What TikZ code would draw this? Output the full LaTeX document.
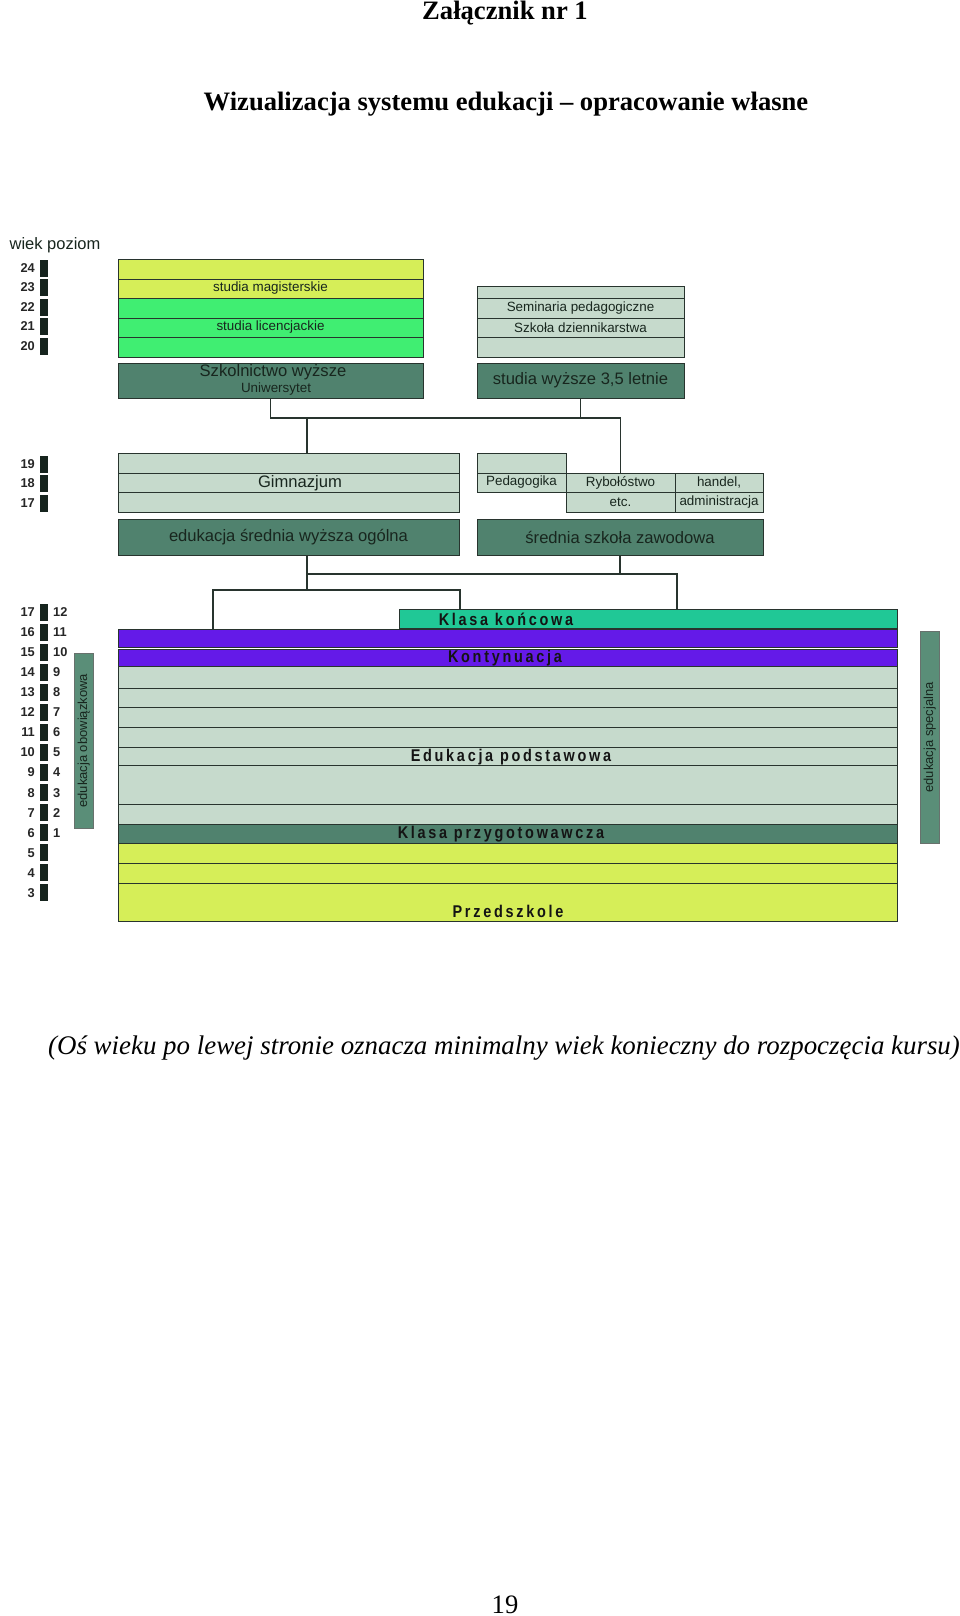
\documentclass[tikz,border=0pt]{standalone}
\usepackage{fontspec}
\setmainfont{Liberation Serif}
\newfontfamily\labelfont{Liberation Sans}
\newfontfamily\bandfont[FakeStretch=0.85, LetterSpace=16]{Liberation Sans}
\usetikzlibrary{positioning,calc}

\definecolor{limeY}{RGB}{214,238,88}
\definecolor{brightG}{RGB}{64,238,114}
\definecolor{sage}{RGB}{198,218,204}
\definecolor{darkT}{RGB}{80,130,110}
\definecolor{kkTeal}{RGB}{32,200,150}
\definecolor{kontC}{RGB}{100,26,232}
\definecolor{sideC}{RGB}{90,142,120}
\definecolor{lineC}{RGB}{40,52,46}
\definecolor{ageC}{RGB}{22,36,30}
\definecolor{txtC}{RGB}{24,38,30}

\begin{document}
\begin{tikzpicture}[x=1pt,y=-1pt,
    box/.style={draw=lineC, line width=0.9pt, anchor=north west, inner sep=0pt, outer sep=0pt},
    big/.style={font=\labelfont\fontsize{16.6}{18}\selectfont, text=txtC, inner sep=0pt},
    small/.style={font=\labelfont\fontsize{13.4}{15}\selectfont, text=txtC, inner sep=0pt},
    band/.style={font=\bandfont\bfseries\fontsize{17}{19}\selectfont, text=black!92, inner sep=0pt},
    conn/.style={draw=lineC, line width=1.3pt},
    agebox/.style={fill=ageC, minimum width=8, minimum height=17, inner sep=0pt},
    agenum/.style={font=\labelfont\bfseries\fontsize{12.8}{14}\selectfont, text=black!85, inner sep=0pt},
    side/.style={fill=sideC, draw=lineC!70, line width=0.6pt, anchor=north west, minimum width=19, inner sep=0pt},
    sidetext/.style={font=\labelfont\fontsize{13}{15}\selectfont, text=txtC, rotate=90, inner sep=0pt}]

  \fill[white, use as bounding box] (0,0) rectangle (960,1616);

  % naglowek
  \node[font=\bfseries\fontsize{26.6}{30}\selectfont, anchor=base] (zal) at (505,20) {Załącznik nr 1};
  \node[font=\bfseries\fontsize{26.6}{30}\selectfont, anchor=base] (tyt) at (506,111) {Wizualizacja systemu edukacji -- opracowanie własne};

  % wiek / poziom
  \node[font=\labelfont\fontsize{16.5}{18}\selectfont, text=txtC] (head) at (55,245) {wiek poziom};

  % studia magisterskie / licencjackie
  \node[box, fill=limeY, minimum width=305, minimum height=20] (mag1) at (118,259) {};
  \node[box, fill=limeY, minimum width=305, minimum height=19, small] (mag2) at (118,279) {studia magisterskie};
  \node[box, fill=brightG, minimum width=305, minimum height=20] (lic1) at (118,298) {};
  \node[box, fill=brightG, minimum width=305, minimum height=19, small] (lic2) at (118,318) {studia licencjackie};
  \node[box, fill=brightG, minimum width=305, minimum height=20] (lic3) at (118,337) {};
  \node[box, fill=darkT, minimum width=305, minimum height=35] (uni) at (118,363) {};
  \node[big] (uniA) at (273,372) {Szkolnictwo wyższe};
  \node[small] (uniB) at (276,389) {Uniwersytet};

  % studia 3,5 letnie
  \node[box, fill=sage, minimum width=207, minimum height=12] (sem1) at (477,286) {};
  \node[box, fill=sage, minimum width=207, minimum height=20, small] (sem2) at (477,298) {Seminaria pedagogiczne};
  \node[box, fill=sage, minimum width=207, minimum height=19, small] (sem3) at (477,318) {Szkoła dziennikarstwa};
  \node[box, fill=sage, minimum width=207, minimum height=20] (sem4) at (477,337) {};
  \node[box, fill=darkT, minimum width=207, minimum height=35, big] (sw35) at (477,363) {studia wyższe 3,5 letnie};

  % gimnazjum
  \node[box, fill=sage, minimum width=341, minimum height=20] (gim1) at (118,453) {};
  \node[box, fill=sage, minimum width=341, minimum height=19] (gim2) at (118,473) {};
  \node[box, fill=sage, minimum width=341, minimum height=20] (gim3) at (118,492) {};
  \node[big] (gimL) at (300,483) {Gimnazjum};
  \node[box, fill=darkT, minimum width=341, minimum height=36, big] (esw) at (118,519) {edukacja średnia wyższa ogólna};

  % szkola zawodowa
  \node[box, fill=sage, minimum width=89, minimum height=20] (ped1) at (477,453) {};
  \node[box, fill=sage, minimum width=89, minimum height=19, small] (ped2) at (477,473) {Pedagogika};
  \node[box, fill=sage, minimum width=109, minimum height=19, small] (ryb1) at (566,473) {Rybołóstwo};
  \node[box, fill=sage, minimum width=109, minimum height=20, small] (ryb2) at (566,492) {etc.};
  \node[box, fill=sage, minimum width=88, minimum height=19, small] (han1) at (675,473) {handel,};
  \node[box, fill=sage, minimum width=88, minimum height=20, small] (han2) at (675,492) {administracja};
  \node[box, fill=darkT, minimum width=286, minimum height=36, big] (szz) at (477,519) {średnia szkoła zawodowa};

  % edukacja podstawowa, przedszkole
  \node[box, fill=kkTeal, minimum width=498, minimum height=19] (kk) at (399,609) {};
  \node[box, fill=kontC, minimum width=779, minimum height=18] (kon1) at (118,629) {};
  \node[box, fill=kontC, minimum width=779, minimum height=17] (kon2) at (118,649) {};
  \foreach \t/\h [count=\i] in {666/22,688/19,707/20,727/20,747/18,765/39,804/20}
    \node[box, fill=sage, minimum width=779, minimum height=\h] (pod\i) at (118,\t) {};
  \node[box, fill=darkT, minimum width=779, minimum height=19] (prz) at (118,824) {};
  \foreach \t/\h [count=\i] in {843/20,863/20,883/38}
    \node[box, fill=limeY, minimum width=779, minimum height=\h] (psz\i) at (118,\t) {};
  \node[band] (kkL) at (506,619) {Klasa końcowa};
  \node[band] (konL) at (505,658) {Kontynuacja};
  \node[band] (podL) at (511,757) {Edukacja podstawowa};
  \node[band] (przL) at (501,834) {Klasa przygotowawcza};
  \node[band] (pszL) at (508,911) {Przedszkole};

  % edukacja obowiazkowa / specjalna
  \node[side, minimum height=175] (obow) at (74,653) {};
  \node[sidetext] (obowL) at (obow.center) {edukacja obowiązkowa};
  \node[side, minimum height=212] (spec) at (920,631) {};
  \node[sidetext] (specL) at (spec.center) {edukacja specjalna};

  % os wieku
  \foreach \a [count=\i from 0] in {24,23,22,21,20} {
    \node[agebox] (wa\a) at (44,268+19.5*\i) {};
    \node[agenum, anchor=east] (wn\a) at (35,268+19.5*\i) {\a};
  }
  \foreach \a [count=\i from 0] in {19,18,17} {
    \node[agebox] (wb\a) at (44,464+19.5*\i) {};
    \node[agenum, anchor=east] (wm\a) at (35,464+19.5*\i) {\a};
  }
  \foreach \a [count=\i from 0] in {17,16,...,3} {
    \node[agebox] (wc\a) at (44,612+20.07*\i) {};
    \node[agenum, anchor=east] (wl\a) at (35,612+20.07*\i) {\a};
  }
  \foreach \p [count=\i from 0] in {12,11,...,1}
    \node[agenum, anchor=west] (lv\p) at (53,612+20.07*\i) {\p};

  % polaczenia
  \coordinate (hA) at ($(uni.south)+(0,20)$);
  \coordinate (gimIn) at ($(gim1.north west)+(189,0)$);
  \draw[conn] (uni.south) -- (hA) -| (ryb1.north);
  \draw[conn] (sw35.south) -- (sw35.south |- hA);
  \draw[conn] (gimIn) -- (gimIn |- hA);

  \coordinate (eswOut) at ($(esw.south west)+(189,0)$);
  \coordinate (hB) at ($(eswOut)+(0,19)$);
  \coordinate (hC) at ($(eswOut)+(0,35)$);
  \coordinate (kkA) at ($(kk.north west)+(278,0)$);
  \coordinate (kkB) at ($(kk.north west)+(61,0)$);
  \coordinate (konIn) at ($(kon1.north west)+(95,0)$);
  \draw[conn] (eswOut) -- (hC);
  \draw[conn] (szz.south) |- (hB) -| (kkA);
  \draw[conn] (konIn) |- (hC) -| (kkB);

  % podpis
  \node[font=\itshape\fontsize{26.9}{30}\selectfont, anchor=base] (pods) at (504,1054) {(Oś wieku po lewej stronie oznacza minimalny wiek konieczny do rozpoczęcia kursu)};
  \node[font=\fontsize{26.6}{30}\selectfont, anchor=base] (str) at (505,1613) {19};
\end{tikzpicture}
\end{document}
